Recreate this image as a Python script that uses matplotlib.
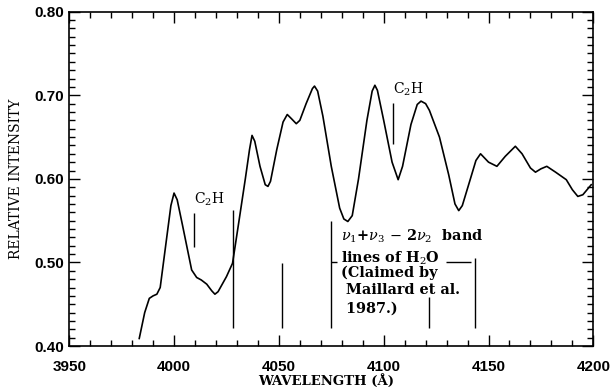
import matplotlib
matplotlib.use('Agg')
import matplotlib.pyplot as plt
from matplotlib.ticker import MultipleLocator, FormatStrFormatter

plt.rcParams['mathtext.fontset'] = 'dejavuserif'

# spectrum
wavelength = [3983.4, 3986, 3988.2, 3990, 3991.8, 3993.4, 3996, 3998.5, 4000, 4001.5,
              4004, 4008.4, 4010.8, 4013, 4015.6, 4018, 4019.5, 4021, 4025, 4027.9,
              4031, 4034, 4036, 4037.2, 4038.5, 4041, 4043.5, 4044.8, 4046, 4049,
              4052, 4054, 4056, 4058.3, 4060, 4063, 4066, 4067, 4068.5, 4071,
              4075, 4079, 4081, 4082.9, 4085, 4088, 4092, 4094.5, 4095.8, 4097,
              4100, 4104, 4106.9, 4109, 4113, 4116, 4117.8, 4120, 4121.8, 4126.6,
              4131, 4134, 4135.8, 4137.5, 4141, 4144, 4146.2, 4150, 4154, 4158,
              4162.8, 4166, 4170, 4172.4, 4175, 4177.8, 4182, 4187.1, 4190, 4192.6,
              4195, 4199]
intensity = [0.409, 0.44, 0.457, 0.460, 0.462, 0.470, 0.52, 0.568, 0.583, 0.575,
             0.545, 0.491, 0.482, 0.479, 0.474, 0.466, 0.462, 0.465, 0.483, 0.499,
             0.550, 0.600, 0.635, 0.652, 0.645, 0.615, 0.593, 0.591, 0.597, 0.635,
             0.668, 0.677, 0.672, 0.666, 0.670, 0.690, 0.708, 0.711, 0.705, 0.675,
             0.615, 0.565, 0.552, 0.549, 0.556, 0.600, 0.670, 0.705, 0.712, 0.706,
             0.670, 0.620, 0.599, 0.615, 0.665, 0.689, 0.693, 0.690, 0.682, 0.650,
             0.605, 0.570, 0.562, 0.568, 0.597, 0.622, 0.630, 0.620, 0.615, 0.627,
             0.639, 0.630, 0.613, 0.608, 0.612, 0.615, 0.608, 0.599, 0.587, 0.579,
             0.581, 0.593]

# H2O line markers
h2o_x = [4027.9, 4051.7, 4075.0, 4121.8, 4143.6]
h2o_top = [0.563, 0.499, 0.550, 0.459, 0.505]
h2o_bottom = 0.421

# C2H markers
c2h_x = [4009.7, 4104.5]
c2h_lo = [0.519, 0.642]
c2h_hi = [0.559, 0.691]
c2h_label_y = [0.575, 0.707]

note_lines = [r'$\nu_1$+$\nu_3$ $-$ 2$\nu_2$  band', 'lines of H$_2$O',
              '(Claimed by', ' Maillard et al.', ' 1987.)']
note_y = [0.531, 0.505, 0.487, 0.467, 0.445]

fig = plt.figure(figsize=(6.12, 3.89), dpi=100)
ax = fig.add_axes([0.1131, 0.1105, 0.8564, 0.8594])

ax.plot(wavelength, intensity, color='black', lw=1.2)
ax.vlines(h2o_x, h2o_bottom, h2o_top, color='black', lw=1.0)
ax.vlines(c2h_x, c2h_lo, c2h_hi, color='black', lw=1.0)
ax.hlines(0.501, 4129.6, 4141.5, color='black', lw=1.0)
ax.hlines(0.501, 4075.0, 4077.5, color='black', lw=1.0)

for x, y in zip(c2h_x, c2h_label_y):
    ax.text(x, y, 'C$_2$H', family='DejaVu Serif', fontsize=10, va='center', ha='left')

for txt, y in zip(note_lines, note_y):
    ax.text(4079.6, y, txt, family='DejaVu Serif', weight='bold', fontsize=10.4,
            va='center', ha='left')

ax.set_xlim(3950, 4200)
ax.set_ylim(0.40, 0.80)
ax.xaxis.set_major_locator(MultipleLocator(50))
ax.xaxis.set_minor_locator(MultipleLocator(10))
ax.yaxis.set_major_locator(MultipleLocator(0.1))
ax.yaxis.set_minor_locator(MultipleLocator(0.01))
ax.yaxis.set_major_formatter(FormatStrFormatter('%.2f'))
ax.tick_params(which='both', direction='in', top=True, right=True, width=1.0)
ax.tick_params(which='major', length=8)
ax.tick_params(which='minor', length=4)
ax.tick_params(axis='x', pad=10)
ax.tick_params(axis='y', pad=4)
for lab in ax.get_xticklabels() + ax.get_yticklabels():
    lab.set_family('Liberation Sans')
    lab.set_fontsize(11)
    lab.set_weight('bold')
for s in ax.spines.values():
    s.set_linewidth(1.2)

ax.set_xlabel('WAVELENGTH (Å)', family='DejaVu Serif', weight='bold', fontsize=9.5)
ax.set_ylabel('RELATIVE INTENSITY', family='DejaVu Serif', fontsize=10)
ax.xaxis.set_label_coords(0.49, -0.085)
ax.yaxis.set_label_coords(-0.088, 0.5)

fig.savefig('out.png', dpi=100)
